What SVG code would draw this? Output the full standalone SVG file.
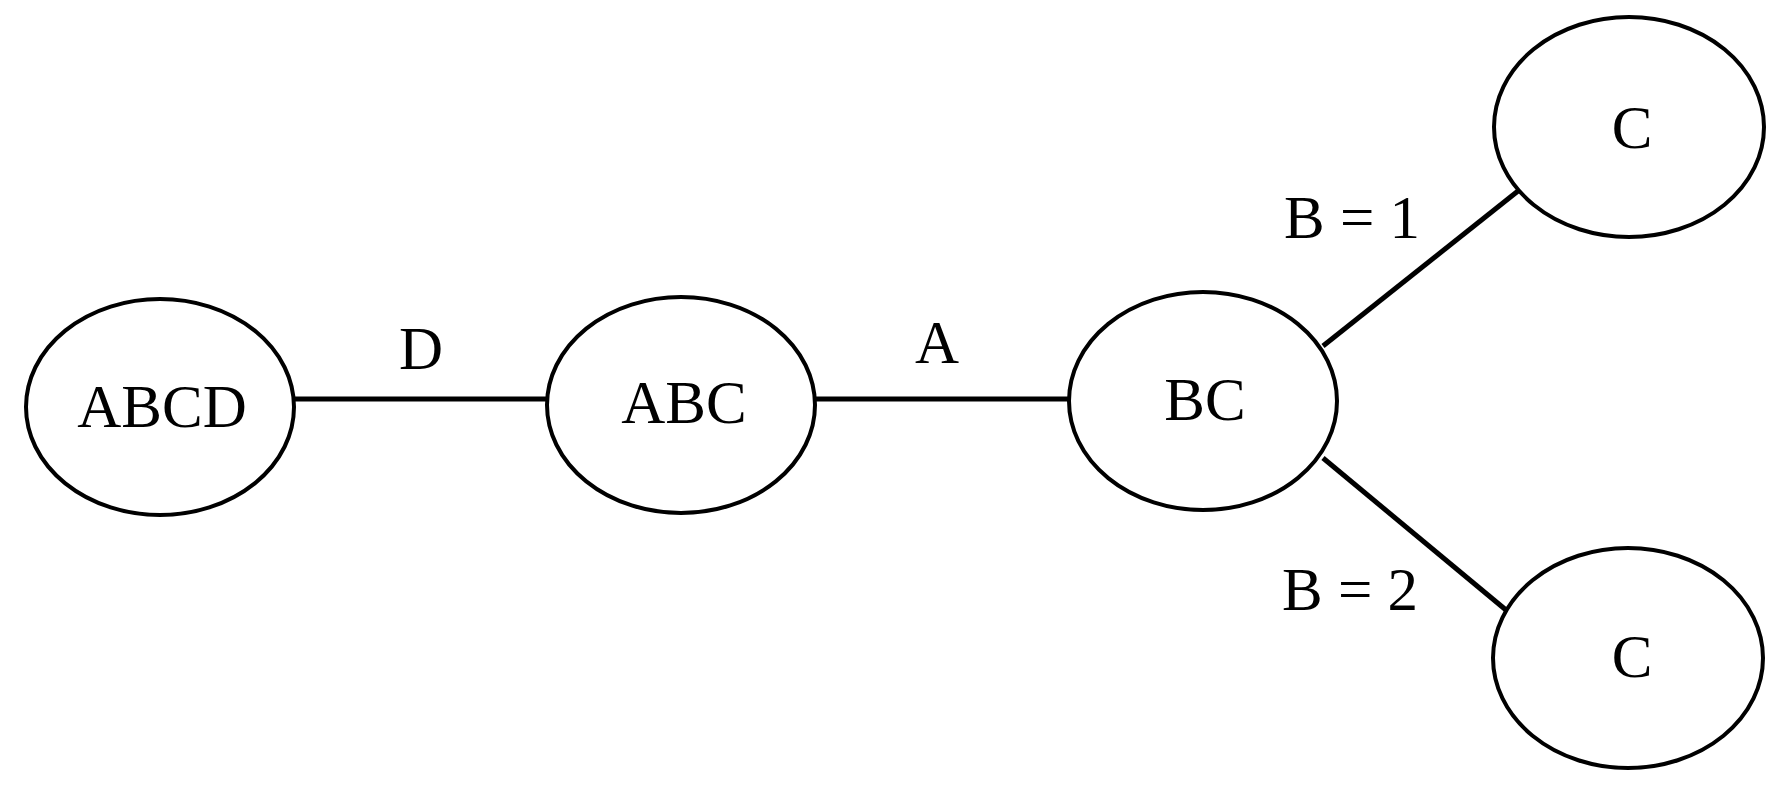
<svg xmlns="http://www.w3.org/2000/svg" width="1779" height="793" viewBox="0 0 1779 793">
<style>
.n{fill:#fff;stroke:#000;stroke-width:4}
.e{stroke:#000;stroke-width:5}
text{font-family:"Liberation Serif",serif;font-size:61px;text-anchor:middle;fill:#000}
</style>
<rect width="1779" height="793" fill="#fff"/>
<g id="connectors">
<line class="e" x1="294" y1="399" x2="547" y2="399"/>
<line class="e" x1="815" y1="399" x2="1069" y2="399"/>
<line class="e" x1="1323" y1="346" x2="1518" y2="191"/>
<line class="e" x1="1323" y1="458" x2="1506" y2="610"/>
<text x="421" y="369">D</text>
<text x="937" y="363">A</text>
<text x="1352" y="238">B = 1</text>
<text x="1350" y="610">B = 2</text>
</g>
<g id="ABCD"><ellipse class="n" cx="160" cy="407" rx="134" ry="108"/><text x="162" y="427">ABCD</text></g>
<g id="ABC"><ellipse class="n" cx="681" cy="405" rx="134" ry="108"/><text x="684" y="423">ABC</text></g>
<g id="BC"><ellipse class="n" cx="1203" cy="401" rx="134" ry="109"/><text x="1205" y="420">BC</text></g>
<g id="C1"><ellipse class="n" cx="1629" cy="127" rx="135" ry="110"/><text x="1632" y="148">C</text></g>
<g id="C2"><ellipse class="n" cx="1628" cy="658" rx="135" ry="110"/><text x="1632" y="677">C</text></g>
</svg>
